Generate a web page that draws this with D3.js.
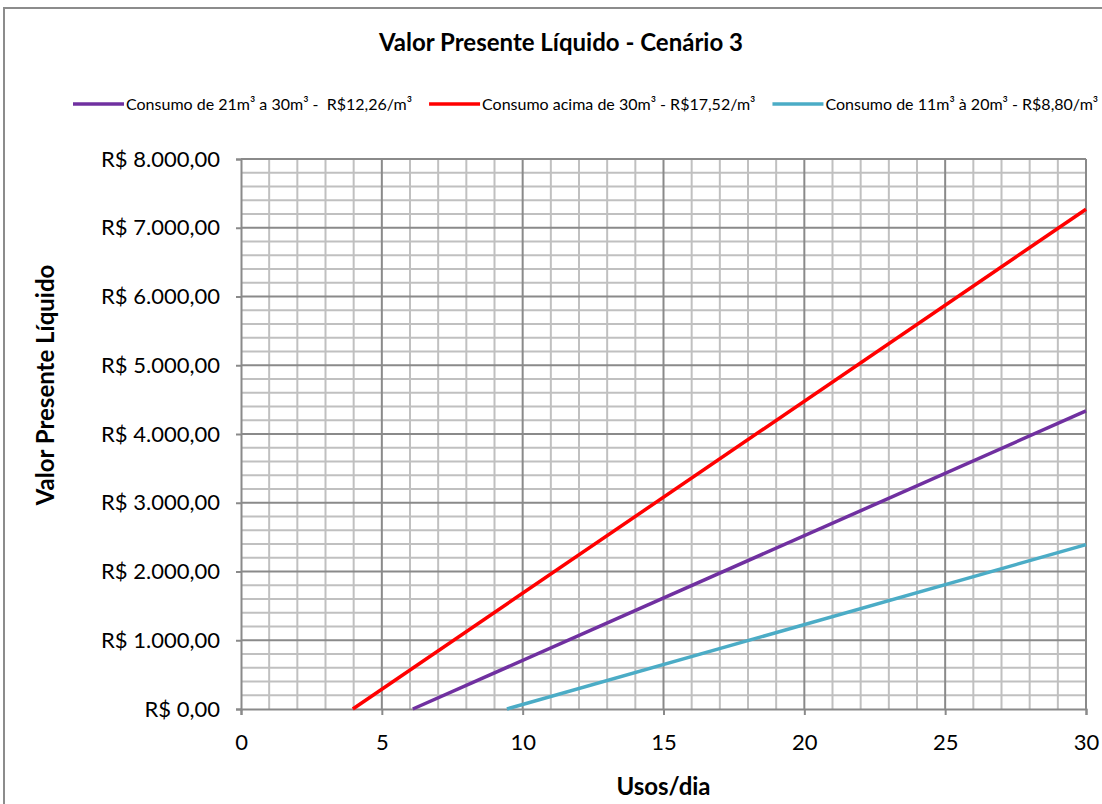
<!DOCTYPE html>
<html><head><meta charset="utf-8">
<script src="https://cdn.jsdelivr.net/npm/d3@7"></script>
<style>body{margin:0;background:#fff}svg{display:block}text{font-family:Lato,"Noto Sans",sans-serif}</style>
</head><body>
<svg id="c" width="1102" height="804"></svg>
<script>
const title = "Valor Presente Líquido - Cenário 3";
const xTitle = "Usos/dia";
const yTitle = "Valor Presente Líquido";
const seriesNames = ["Consumo de 21m³ a 30m³ -  R$12,26/m³", "Consumo acima de 30m³ - R$17,52/m³", "Consumo de 11m³ à 20m³ - R$8,80/m³"];
const seriesColors = ["#7030A0", "#FF0000", "#4BACC6"];
const purpleX = [6.1, 30];
const purpleY = [0, 4335];
const redX = [3.97, 30];
const redY = [0, 7270];
const cyanX = [9.44, 30];
const cyanY = [0, 2390];
const xTicks = [0, 5, 10, 15, 20, 25, 30];
const yTicks = [0, 1000, 2000, 3000, 4000, 5000, 6000, 7000, 8000];

const svg = d3.select("#c");
svg.append("rect").attr("x",4).attr("y",8).attr("width",1110).attr("height",810)
  .attr("fill","#fff").attr("stroke","#8c8c8c").attr("stroke-width",2);

const L=241,R=1086,T=159,B=709;
const x = d3.scaleLinear().domain([0,30]).range([L,R]);
const y = d3.scaleLinear().domain([0,8000]).range([B,T]);

const g = svg.append("g");
// minor grid
d3.range(0,31,1).filter(v=>v%5!==0).forEach(v=>{
  g.append("line").attr("x1",x(v)).attr("x2",x(v)).attr("y1",T).attr("y2",B).attr("stroke","#c0c0c0").attr("stroke-width",2);
});
d3.range(0,8001,200).filter(v=>v%1000!==0).forEach(v=>{
  g.append("line").attr("x1",L).attr("x2",R).attr("y1",y(v)).attr("y2",y(v)).attr("stroke","#c0c0c0").attr("stroke-width",2);
});
// major grid
xTicks.forEach(v=>{ if(v>0) g.append("line").attr("x1",x(v)).attr("x2",x(v)).attr("y1",T).attr("y2",B).attr("stroke","#8a8a8a").attr("stroke-width",2);});
yTicks.forEach(v=>{ if(v>0) g.append("line").attr("x1",L).attr("x2",R).attr("y1",y(v)).attr("y2",y(v)).attr("stroke","#8a8a8a").attr("stroke-width",2);});

// axes
const fmt = v => "R$ " + d3.format(",.2f")(v).replace(/,/g,"#").replace(/\./g,",").replace(/#/g,".");
const ya = d3.axisLeft(y).tickValues(yTicks).tickFormat(fmt).tickSize(5).tickPadding(16);
const xa = d3.axisBottom(x).tickValues(xTicks).tickFormat(d3.format("d")).tickSize(6).tickPadding(12);
const gy = svg.append("g").attr("transform",`translate(${L},0)`).call(ya);
const gx = svg.append("g").attr("transform",`translate(0,${B})`).call(xa);
[gy,gx].forEach(a=>{
  a.selectAll("path").attr("stroke","#8a8a8a").attr("stroke-width",2);
  a.selectAll("line").attr("stroke","#8a8a8a").attr("stroke-width",2);
  a.selectAll("text").attr("font-size",22).attr("fill","#000").attr("font-family","Lato");
});
gx.selectAll("text").attr("dy",null).attr("y",41);

// series
const line = d3.line().x(d=>x(d[0])).y(d=>y(d[1]));
const data = [d3.zip(purpleX,purpleY), d3.zip(redX,redY), d3.zip(cyanX,cyanY)];
data.forEach((d,i)=>{
  svg.append("path").attr("d",line(d)).attr("fill","none").attr("stroke",seriesColors[i]).attr("stroke-width",3.5);
});

// titles
svg.append("text").attr("x",561).attr("y",51).attr("text-anchor","middle").attr("font-weight","bold").attr("font-size",24).text(title);
svg.append("text").attr("x",x(15)).attr("y",795).attr("text-anchor","middle").attr("font-weight","bold").attr("font-size",24).text(xTitle);
svg.append("text").attr("transform",`translate(54,385) rotate(-90)`).attr("text-anchor","middle").attr("font-weight","bold").attr("font-size",24).text(yTitle);

// legend
let lx = 73;
const ly = 104;
seriesNames.forEach((n,i)=>{
  svg.append("line").attr("x1",lx).attr("x2",lx+51).attr("y1",ly).attr("y2",ly).attr("stroke",seriesColors[i]).attr("stroke-width",3.5);
  const t = svg.append("text").attr("x",lx+53).attr("y",ly+6).attr("font-size",16)
    .attr("xml:space","preserve").style("white-space","pre").text(n);
  const w = t.node().getComputedTextLength();
  lx = lx + 53 + w + 17;
});
</script>
</body></html>
